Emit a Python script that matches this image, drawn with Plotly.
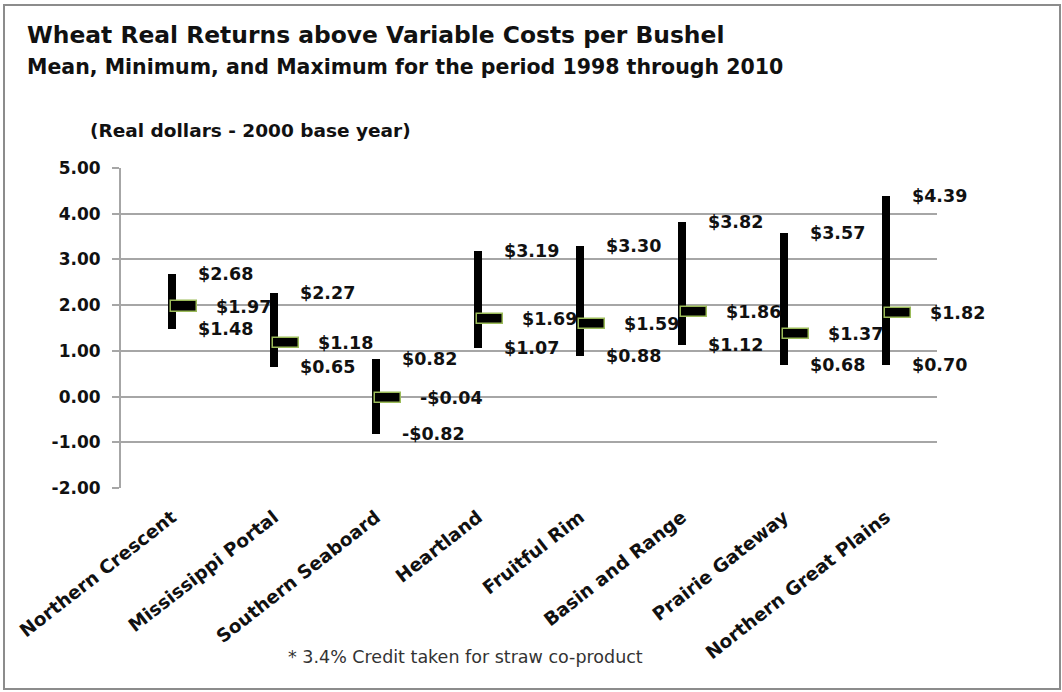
import plotly.graph_objects as go

# Wheat returns above variable costs, 1998-2010 (real dollars, 2000 base year)
regions = ["Northern Crescent", "Mississippi Portal", "Southern Seaboard", "Heartland",
           "Fruitful Rim", "Basin and Range", "Prairie Gateway", "Northern Great Plains"]
max_vals = [2.68, 2.27, 0.82, 3.19, 3.30, 3.82, 3.57, 4.39]
mean_vals = [1.97, 1.18, -0.04, 1.69, 1.59, 1.86, 1.37, 1.82]
min_vals = [1.48, 0.65, -0.82, 1.07, 0.88, 1.12, 0.68, 0.70]
y_ticks = [5, 4, 3, 2, 1, 0, -1, -2]

W, H = 1062, 692
ML, MR, MT, MB = 121, 125, 168, 204
PW, PH = W - ML - MR, H - MT - MB

FONT = "DejaVu Sans, Verdana, sans-serif"
idx = list(range(len(regions)))


def px(x):
    return (x - ML) / PW


def py(y):
    return (H - MB - y) / PH


def money(v):
    return ("-$%.2f" % -v) if v < 0 else "$%.2f" % v


fig = go.Figure()

# high-low range bars
fig.add_trace(go.Bar(
    x=idx, y=[hi - lo for hi, lo in zip(max_vals, min_vals)], base=min_vals,
    width=0.088, offset=-0.044,
    marker=dict(color="black", line=dict(width=0)),
    hoverinfo="skip", showlegend=False,
))

# mean tick marks
dash_h = 0.22
fig.add_trace(go.Bar(
    x=idx, y=[dash_h] * len(idx), base=[m - dash_h / 2 for m in mean_vals],
    width=0.26, offset=-0.012,
    marker=dict(color="black", line=dict(color="#9BBB59", width=1.5)),
    hoverinfo="skip", showlegend=False,
))

annotations = []
lab_font = dict(family=FONT, size=17.5, color="#111111")
for i in idx:
    annotations.append(dict(x=i + 0.235, y=max_vals[i], xref="x", yref="y", text="<b>%s</b>" % money(max_vals[i]),
                            showarrow=False, xanchor="left", yanchor="middle", font=lab_font))
    annotations.append(dict(x=i + 0.41, y=mean_vals[i], xref="x", yref="y", text="<b>%s</b>" % money(mean_vals[i]),
                            showarrow=False, xanchor="left", yanchor="middle", font=lab_font))
    annotations.append(dict(x=i + 0.235, y=min_vals[i], xref="x", yref="y", text="<b>%s</b>" % money(min_vals[i]),
                            showarrow=False, xanchor="left", yanchor="middle", font=lab_font))

# headings and notes
annotations += [
    dict(x=px(25), y=py(35), xref="paper", yref="paper", xanchor="left", yanchor="middle", showarrow=False,
         text="<b>Wheat Real Returns above Variable Costs per Bushel</b>", font=dict(family=FONT, size=23.4, color="#111111")),
    dict(x=px(25), y=py(67), xref="paper", yref="paper", xanchor="left", yanchor="middle", showarrow=False,
         text="<b>Mean, Minimum, and Maximum for the period 1998 through 2010</b>", font=dict(family=FONT, size=20.5, color="#111111")),
    dict(x=px(88), y=py(131), xref="paper", yref="paper", xanchor="left", yanchor="middle", showarrow=False,
         text="<b>(Real dollars - 2000 base year)</b>", font=dict(family=FONT, size=18.5, color="#111111")),
    dict(x=px(286), y=py(657), xref="paper", yref="paper", xanchor="left", yanchor="middle", showarrow=False,
         text="* 3.4% Credit taken for straw co-product", font=dict(family=FONT, size=17.5, color="#333333")),
]

fig.update_layout(
    width=W, height=H,
    margin=dict(l=ML, r=MR, t=MT, b=MB),
    paper_bgcolor="white", plot_bgcolor="white",
    barmode="overlay", bargap=0,
    annotations=annotations,
    shapes=[dict(type="rect", xref="paper", yref="paper",
                 x0=px(4), x1=px(1060), y0=py(689), y1=py(5),
                 line=dict(color="#8c8c8c", width=2), fillcolor="rgba(0,0,0,0)", layer="below")],
    font=dict(family=FONT, color="#111111"),
)

fig.update_xaxes(
    range=[-0.5, 7.5], tickmode="array", tickvals=idx,
    ticktext=["<b>%s</b>" % r for r in regions], tickangle=-38,
    tickfont=dict(family=FONT, size=18.5, color="#111111"),
    showgrid=False, zeroline=False, showline=False, ticks="",
    ticklabelstandoff=14,
)
fig.update_yaxes(
    range=[-2, 5], tickmode="array", tickvals=y_ticks,
    ticktext=["<b>%.2f</b>" % v for v in y_ticks],
    tickfont=dict(family=FONT, size=17, color="#111111"),
    showgrid=True, gridcolor="#a6a6a6", gridwidth=2,
    zeroline=False, showline=True, linecolor="#a6a6a6", linewidth=2,
    ticks="outside", ticklen=7, tickcolor="#a6a6a6", tickwidth=2,
    ticklabelstandoff=8,
)

fig.write_html("out.html")
